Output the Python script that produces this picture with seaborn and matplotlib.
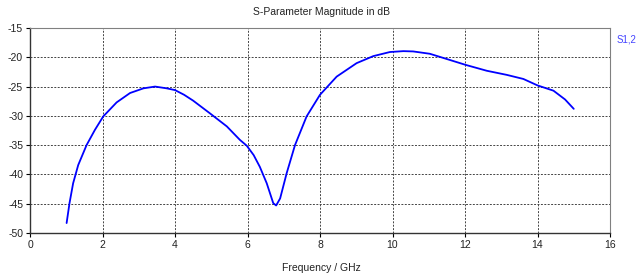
import matplotlib
matplotlib.use("Agg")
import matplotlib.pyplot as plt
import seaborn as sns
import pandas as pd

freq_ghz = [1.01, 1.09, 1.19, 1.33, 1.56, 1.79, 2.02, 2.39, 2.76, 3.13, 3.45, 3.77,
            4.00, 4.25, 4.50, 4.97, 5.20, 5.43, 5.79, 5.98, 6.17, 6.34, 6.53, 6.71, 6.79, 6.90,
            7.08, 7.31, 7.63, 8.00, 8.46, 9.01, 9.47, 9.93, 10.30, 10.57, 11.03,
            11.50, 12.02, 12.60, 13.15, 13.61, 14.00, 14.44, 14.76, 15.00]
s12_db = [-48.3, -44.9, -41.5, -38.4, -35.0, -32.4, -30.1, -27.7, -26.1, -25.3, -25.0, -25.3,
          -25.6, -26.4, -27.4, -29.6, -30.7, -31.8, -34.1, -35.1, -36.7, -38.7, -41.5, -44.9,
          -45.3, -44.1, -39.8, -35.0, -30.1, -26.4, -23.3, -21.0, -19.8, -19.1, -18.95, -19.0,
          -19.4, -20.3, -21.3, -22.3, -23.0, -23.7, -24.8, -25.7, -27.2, -28.8]
x_ticks = [0, 2, 4, 6, 8, 10, 12, 14, 16]
y_ticks = [-50, -45, -40, -35, -30, -25, -20, -15]
series_name = "S1,2"

df = pd.DataFrame({"freq": freq_ghz, "db": s12_db})

sns.set_theme(style="white")
plt.rcParams["font.family"] = ["Liberation Sans", "DejaVu Sans"]
plt.rcParams["axes.unicode_minus"] = False

fig = plt.figure(figsize=(6.36, 2.76), dpi=100)
ax = fig.add_axes([30/636, 43/276, 580/636, 205/276])
sns.lineplot(data=df, x="freq", y="db", ax=ax, color="#0000ff", linewidth=1.3, sort=False)

ax.set_xlim(0, 16)
ax.set_ylim(-50, -15)
ax.set_xticks(x_ticks)
ax.set_yticks(y_ticks)
ax.tick_params(axis="both", labelsize=7.5, length=3, width=0.8, color="black", pad=2,
               direction="out", left=True, bottom=True, labelcolor="#222222")
ax.grid(True, color="#444444", linestyle=(0, (2, 1.5)), linewidth=0.7)
for side in ["left", "bottom"]:
    ax.spines[side].set_color("#333333")
    ax.spines[side].set_linewidth(1.0)
for side in ["top", "right"]:
    ax.spines[side].set_color("#808080")
    ax.spines[side].set_linewidth(0.8)

ax.set_xlabel("")
ax.set_ylabel("")
fig.text(321/636, 1 - 268/276, "Frequency / GHz", ha="center", va="center", fontsize=7.5,
         color="#222222")
fig.text(321/636, 1 - 12/276, "S-Parameter Magnitude in dB", ha="center", va="center",
         fontsize=7.5, color="#222222")
fig.text(617/636, 1 - 40/276, series_name, ha="left", va="center", fontsize=7,
         color="#4444ff")

fig.savefig("out.png", dpi=100)
